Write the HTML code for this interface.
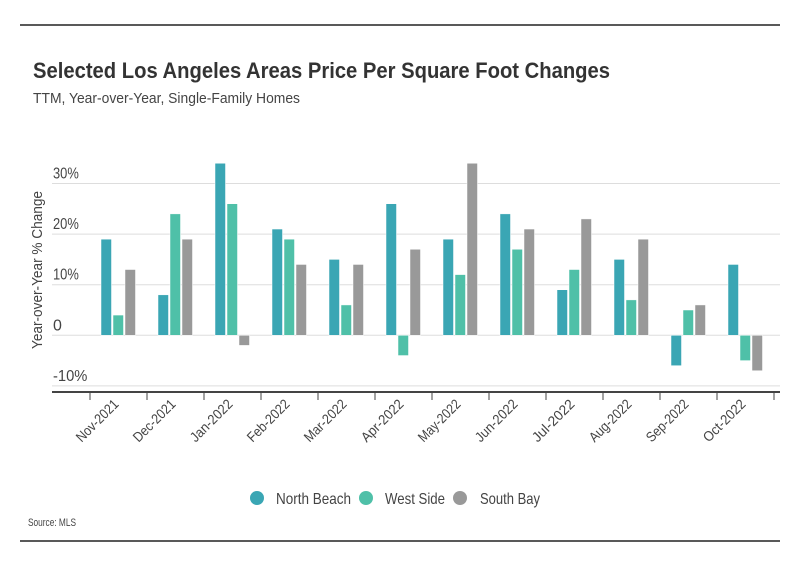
<!DOCTYPE html>
<html><head><meta charset="utf-8"><style>
body{margin:0;background:#fff;}
svg{display:block;font-family:"Liberation Sans Narrow","Liberation Sans",sans-serif;}
</style></head><body>
<svg id="chart" width="800" height="575" viewBox="0 0 800 575">
<rect width="800" height="575" fill="#fff"/>
<line x1="20" y1="25" x2="780" y2="25" stroke="#222" stroke-width="1.5"/>
<text x="33" y="78" font-size="22" font-weight="bold" fill="#333" textLength="577" lengthAdjust="spacingAndGlyphs">Selected Los Angeles Areas Price Per Square Foot Changes</text>
<text x="33" y="103" font-size="15" fill="#444" textLength="267" lengthAdjust="spacingAndGlyphs">TTM, Year-over-Year, Single-Family Homes</text>
<text transform="translate(42,270) rotate(-90)" text-anchor="middle" font-size="15" fill="#444" textLength="158" lengthAdjust="spacingAndGlyphs">Year-over-Year % Change</text>
<g id="grid"></g><g id="bars"></g><g id="xaxis"></g>
<g>
<circle cx="257" cy="498" r="7" fill="#3aa6b4"/>
<text x="276" y="504" font-size="16" fill="#444" textLength="75" lengthAdjust="spacingAndGlyphs">North Beach</text>
<circle cx="366" cy="498" r="7" fill="#4fc0a8"/>
<text x="385" y="504" font-size="16" fill="#444" textLength="60" lengthAdjust="spacingAndGlyphs">West Side</text>
<circle cx="460" cy="498" r="7" fill="#999"/>
<text x="480" y="504" font-size="16" fill="#444" textLength="60" lengthAdjust="spacingAndGlyphs">South Bay</text>
</g>
<text x="28" y="526" font-size="11" fill="#444" textLength="48" lengthAdjust="spacingAndGlyphs">Source: MLS</text>
<line x1="20" y1="541" x2="780" y2="541" stroke="#222" stroke-width="1.5"/>
</svg>
<script>
const categories=["Nov-2021","Dec-2021","Jan-2022","Feb-2022","Mar-2022","Apr-2022","May-2022","Jun-2022","Jul-2022","Aug-2022","Sep-2022","Oct-2022"];
const northBeach=[19,8,34,21,15,26,19,24,9,15,-6,14];
const westSide=[4,24,26,19,6,-4,12,17,13,7,5,-5];
const southBay=[13,19,-2,14,14,17,34,21,23,19,6,-7];
const yTicks=[-10,0,10,20,30];
const yTickLabels=["-10%","0","10%","20%","30%"];
const NS="http://www.w3.org/2000/svg";
function y(v){return 335.3-v*5.06;}
function xc(i){return 118.5+i*57;}
function mk(tag,attrs,parent){const e=document.createElementNS(NS,tag);for(const k in attrs)e.setAttribute(k,attrs[k]);parent.appendChild(e);return e;}
const grid=document.getElementById('grid'),bars=document.getElementById('bars'),xa=document.getElementById('xaxis');
yTicks.forEach((t,i)=>{
  const l=mk('line',{x1:52,x2:780,y1:y(t),y2:y(t),stroke:'#ddd','stroke-width':1},grid);
  
  
  const lab=yTickLabels[i];
  const attrs={x:53,y:y(t)-5,'font-size':16,fill:'#444'};
  if(lab.length>1){attrs.textLength=lab.length*8.6;attrs.lengthAdjust='spacingAndGlyphs';}
  const tx=mk('text',attrs,grid);
  tx.textContent=lab;
  
  
});
const series=[[northBeach,'#3aa6b4',-17.5,'north-beach'],[westSide,'#4fc0a8',-5.5,'west-side'],[southBay,'#999',6.5,'south-bay']];
categories.forEach((c,i)=>{
  series.forEach(s=>{
    const v=s[0][i];
    const r=mk('rect',{x:xc(i)+s[2],width:10.5,y:Math.min(y(v),y(0)),height:Math.abs(y(v)-y(0)),fill:s[1],stroke:'#fff','stroke-width':0.5},bars);
    
    
  });
  const tk=mk('line',{x1:xc(i)-28.5,x2:xc(i)-28.5,y1:392,y2:400,stroke:'#444','stroke-width':1},xa);
  
  
  const lb=mk('text',{transform:'translate('+(xc(i)+1)+',405) rotate(-45)','text-anchor':'end','font-size':14,fill:'#444',textLength:c.length*6.7,lengthAdjust:'spacingAndGlyphs'},xa);
  lb.textContent=c;
  
  
});
const tkl=mk('line',{x1:xc(12)-28.5,x2:xc(12)-28.5,y1:392,y2:400,stroke:'#444','stroke-width':1},xa);


const ax=mk('line',{x1:52,x2:780,y1:392,y2:392,stroke:'#444','stroke-width':2},xa);


</script>
</body></html>
